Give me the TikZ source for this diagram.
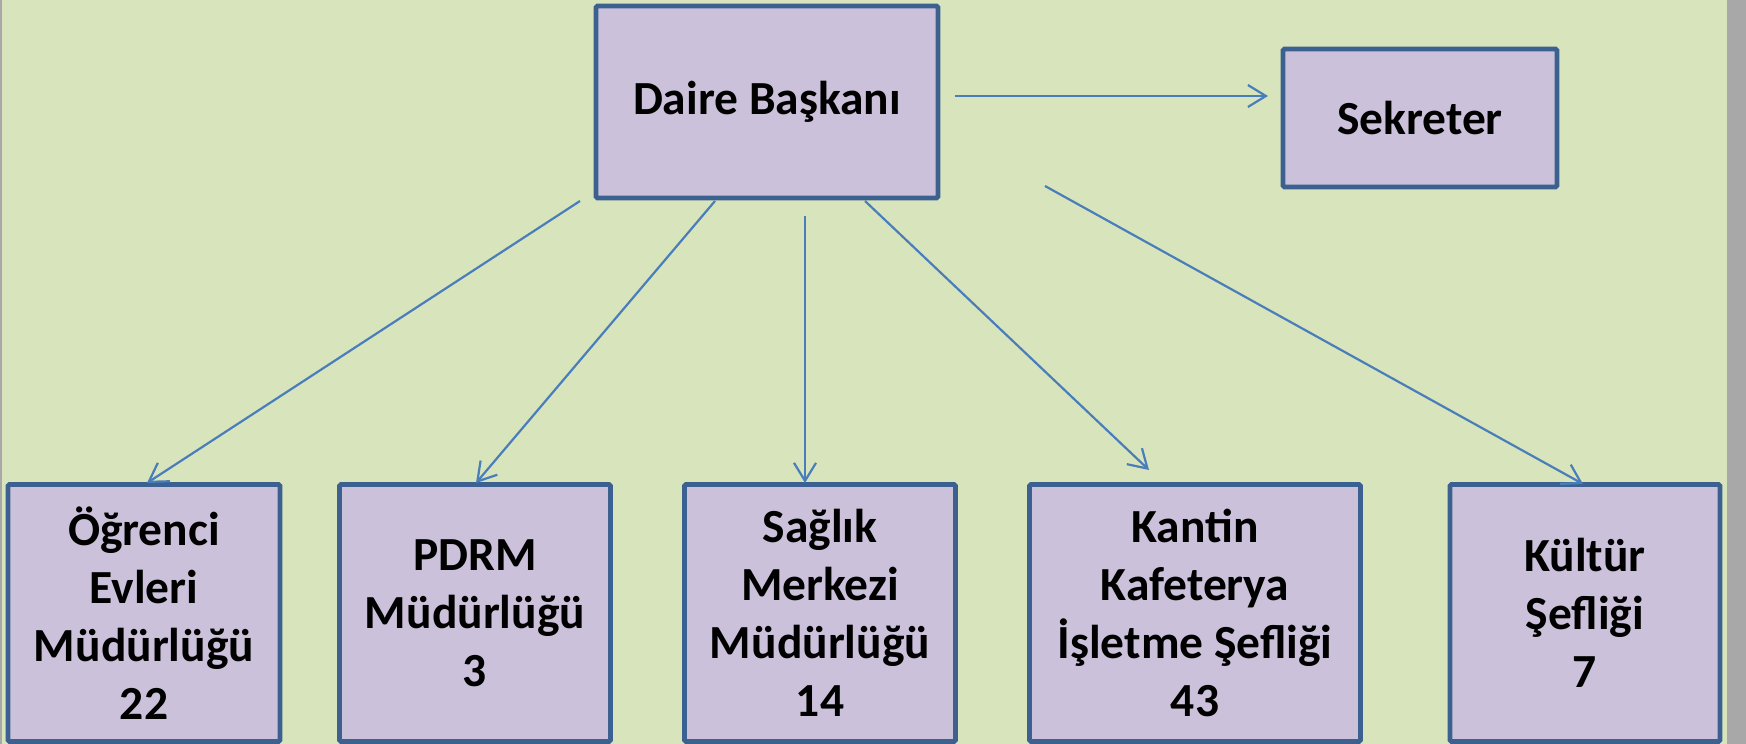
\documentclass[tikz,border=0pt]{standalone}
\usepackage{fontspec}
\setmainfont{Carlito}
\usetikzlibrary{arrows.meta}
\definecolor{bgc}{HTML}{D8E4BC}
\definecolor{boxfill}{HTML}{CCC1DA}
\definecolor{boxline}{HTML}{3C6190}
\definecolor{arr}{HTML}{4A7EBB}
\definecolor{strip}{HTML}{A8A8A8}
\tikzset{
  unitbox/.style={draw=boxline, line width=4.8pt, fill=boxfill, rounded corners=1.5pt,
    align=center, font=\fontsize{47.5}{58}\selectfont\bfseries, inner sep=0pt},
  conn/.style={draw=arr, line width=2.2pt, -{Straight Barb[length=18pt,width=22pt,line width=2.2pt]}}
}
\begin{document}
\begin{tikzpicture}[x=1pt,y=-1pt]
\useasboundingbox (0,0) rectangle (1746,744);
\fill[bgc] (0,0) rectangle (1746,744);
\fill[strip] (1727,0) rectangle (1746,744);
\fill[strip] (0,0) rectangle (1.5,744);

\node[unitbox, minimum width=342pt, minimum height=192pt] (db) at (767,102) {Daire Başkanı};
\node[unitbox, minimum width=274pt, minimum height=138pt] (sk) at (1420,118) {Sekreter};

\node[unitbox, minimum width=272pt, minimum height=257pt] (b1) at (144,613) {Öğrenci\\Evleri\\Müdürlüğü\\22};
\node[unitbox, minimum width=271pt, minimum height=257pt] (b2) at (475,613) {PDRM\\Müdürlüğü\\3};
\node[unitbox, minimum width=271pt, minimum height=257pt] (b3) at (820,613) {Sağlık\\Merkezi\\Müdürlüğü\\14};
\node[unitbox, minimum width=331pt, minimum height=257pt] (b4) at (1195,613) {Kantin\\Kafeterya\\İşletme Şefliği\\43};
\node[unitbox, minimum width=270pt, minimum height=257pt] (b5) at (1585,613) {Kültür\\Şefliği\\7};

\coordinate (s0) at (955,96);  \coordinate (e0) at (1268,96);
\coordinate (s1) at (580,201); \coordinate (e1) at (147,483);
\coordinate (s2) at (715,201); \coordinate (e2) at (476,483);
\coordinate (s3) at (805,216); \coordinate (e3) at (805,483);
\coordinate (s4) at (865,201); \coordinate (e4) at (1149,470);
\coordinate (s5) at (1045,186); \coordinate (e5) at (1583,484);

\draw[conn] (s0) -- (e0);
\draw[conn] (s1) -- (e1);
\draw[conn] (s2) -- (e2);
\draw[conn] (s3) -- (e3);
\draw[conn] (s4) -- (e4);
\draw[conn] (s5) -- (e5);
\end{tikzpicture}
\end{document}
